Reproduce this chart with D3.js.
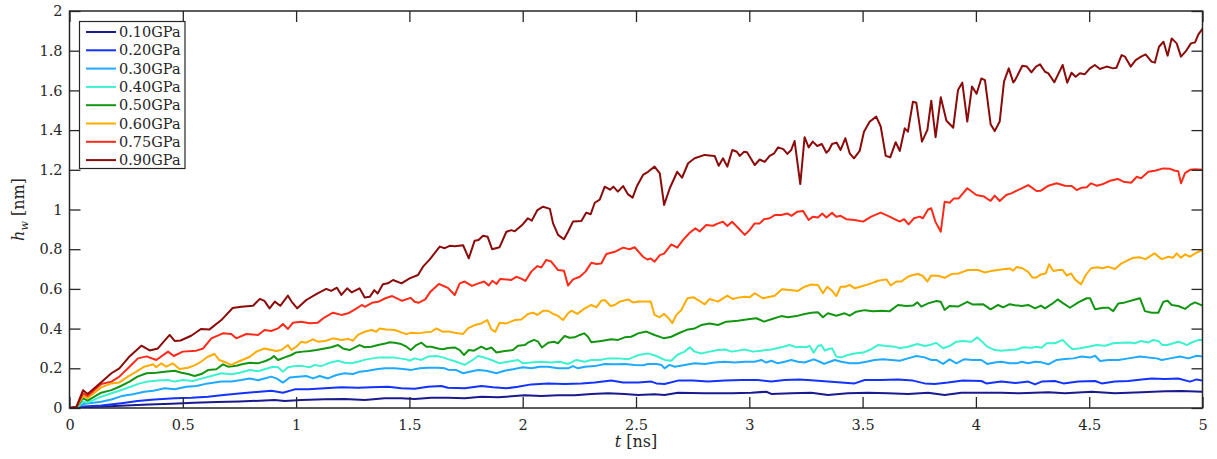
<!DOCTYPE html>
<meta charset="utf-8">
<title>h_w vs t</title>
<style>
  body { margin: 0; background: #fff; }
  svg { display: block; }
  .axis text { font-family: 'DejaVu Serif', serif; font-size: 14.5px; fill: #262626; }
  .axis path, .axis line { stroke: #262626; }
  .label { font-family: 'DejaVu Serif', serif; font-size: 16px; fill: #262626; }
  .legend text { font-family: 'DejaVu Serif', serif; font-size: 14.5px; fill: #262626; }
</style>
<body>
<svg width="1217" height="459"></svg>
<script src="https://cdn.jsdelivr.net/npm/d3@7"></script>
<script>

// series labels and colours
var names = ["0.10GPa","0.20GPa","0.30GPa","0.40GPa","0.50GPa","0.60GPa","0.75GPa","0.90GPa"];
var colors = ["#1a1a8f","#1432ff","#1eaaff","#3cf2cf","#129612","#ffab00","#ff2a1a","#8b0a0a"];

var xTicks = [0,0.5,1,1.5,2,2.5,3,3.5,4,4.5,5];
var yTicks = [0,0.2,0.4,0.6,0.8,1,1.2,1.4,1.6,1.8,2];

// t [ns] / h_w [nm]
var t010 = [0,0.06,0.15,0.25,0.35,0.45,0.55,0.65,0.75,0.84,0.905,0.95,1.023,1.126,1.214,1.303,1.391,1.464,1.523,1.597,1.67,1.744,1.818,1.891,1.965,2.009,2.082,2.156,2.229,2.303,2.377,2.45,2.509,2.582,2.626,2.685,2.803,2.921,3.009,3.075,3.097,3.185,3.274,3.347,3.435,3.524,3.612,3.7,3.789,3.862,3.936,4.024,4.112,4.193,4.32,4.393,4.511,4.614,4.732,4.835,4.908,5];
var h010 = [0,0.003,0.008,0.013,0.018,0.022,0.027,0.03,0.033,0.037,0.04,0.035,0.04,0.044,0.045,0.04,0.049,0.049,0.045,0.052,0.052,0.049,0.057,0.054,0.06,0.064,0.06,0.064,0.064,0.07,0.074,0.07,0.066,0.069,0.065,0.077,0.074,0.074,0.077,0.082,0.071,0.074,0.077,0.066,0.074,0.077,0.074,0.07,0.077,0.065,0.077,0.077,0.077,0.074,0.079,0.074,0.082,0.074,0.079,0.084,0.086,0.082];

var t020 = [0,0.06,0.14,0.23,0.3,0.376,0.464,0.538,0.611,0.68,0.76,0.84,0.891,0.942,0.994,1.053,1.126,1.2,1.273,1.332,1.406,1.464,1.523,1.582,1.641,1.67,1.744,1.818,1.869,1.928,1.979,2.038,2.112,2.185,2.259,2.318,2.391,2.443,2.509,2.568,2.59,2.626,2.685,2.751,2.818,2.891,2.965,3.038,3.097,3.156,3.222,3.288,3.347,3.406,3.465,3.509,3.583,3.656,3.722,3.774,3.818,3.877,3.943,4.024,4.046,4.112,4.173,4.231,4.261,4.29,4.349,4.386,4.452,4.526,4.555,4.614,4.673,4.732,4.776,4.835,4.893,4.945,4.974,5];
var h020 = [0,0.007,0.012,0.024,0.035,0.043,0.049,0.052,0.057,0.065,0.074,0.082,0.087,0.077,0.094,0.094,0.099,0.104,0.102,0.104,0.107,0.099,0.097,0.107,0.111,0.102,0.099,0.111,0.104,0.099,0.107,0.119,0.124,0.121,0.124,0.128,0.138,0.128,0.128,0.133,0.124,0.121,0.138,0.138,0.133,0.138,0.141,0.141,0.133,0.141,0.144,0.138,0.133,0.128,0.124,0.141,0.141,0.144,0.138,0.124,0.121,0.128,0.138,0.136,0.124,0.133,0.126,0.133,0.119,0.133,0.136,0.124,0.133,0.136,0.124,0.133,0.136,0.144,0.149,0.146,0.149,0.133,0.144,0.138];

var t030 = [0,0.03,0.06,0.14,0.185,0.23,0.28,0.33,0.37,0.42,0.464,0.515,0.56,0.611,0.67,0.714,0.758,0.795,0.832,0.861,0.89,0.913,0.942,0.972,1.008,1.045,1.075,1.104,1.141,1.178,1.214,1.251,1.281,1.317,1.354,1.391,1.435,1.472,1.509,1.545,1.582,1.626,1.656,1.67,1.707,1.737,1.766,1.803,1.84,1.884,1.92,1.957,2.001,2.038,2.075,2.112,2.156,2.2,2.222,2.244,2.274,2.318,2.362,2.406,2.45,2.494,2.531,2.553,2.59,2.612,2.626,2.648,2.671,2.715,2.759,2.803,2.847,2.891,2.935,2.98,3.024,3.053,3.075,3.097,3.126,3.156,3.185,3.215,3.244,3.266,3.285,3.311,3.33,3.355,3.377,3.406,3.443,3.48,3.516,3.553,3.59,3.627,3.664,3.7,3.737,3.774,3.803,3.825,3.855,3.884,3.914,3.947,3.987,4.024,4.05,4.083,4.112,4.149,4.18,4.202,4.231,4.261,4.29,4.32,4.356,4.393,4.43,4.467,4.504,4.526,4.548,4.585,4.629,4.673,4.724,4.761,4.798,4.82,4.857,4.901,4.938,4.974,5];
var h030 = [0,0.001,0.02,0.032,0.043,0.06,0.069,0.082,0.087,0.099,0.094,0.107,0.111,0.124,0.133,0.133,0.141,0.149,0.14,0.149,0.158,0.149,0.128,0.154,0.158,0.161,0.149,0.161,0.149,0.166,0.175,0.171,0.183,0.188,0.195,0.2,0.2,0.197,0.192,0.2,0.203,0.203,0.2,0.193,0.191,0.175,0.183,0.191,0.188,0.175,0.188,0.195,0.205,0.2,0.208,0.208,0.2,0.2,0.211,0.2,0.208,0.211,0.222,0.22,0.222,0.217,0.215,0.222,0.222,0.217,0.2,0.217,0.208,0.217,0.225,0.222,0.229,0.233,0.229,0.233,0.233,0.242,0.229,0.238,0.225,0.233,0.242,0.233,0.229,0.238,0.245,0.233,0.222,0.233,0.242,0.233,0.225,0.225,0.233,0.242,0.245,0.242,0.238,0.25,0.262,0.255,0.242,0.242,0.222,0.245,0.225,0.245,0.242,0.242,0.222,0.229,0.233,0.225,0.225,0.233,0.225,0.233,0.23,0.22,0.242,0.247,0.25,0.259,0.254,0.263,0.237,0.242,0.242,0.25,0.259,0.254,0.25,0.242,0.25,0.259,0.25,0.263,0.259];

var t040 = [0,0.03,0.06,0.08,0.14,0.185,0.23,0.27,0.31,0.346,0.39,0.434,0.464,0.5,0.545,0.582,0.626,0.67,0.714,0.751,0.796,0.832,0.861,0.898,0.92,0.942,0.964,0.994,1.03,1.06,1.082,1.111,1.141,1.185,1.214,1.244,1.273,1.31,1.339,1.369,1.398,1.428,1.457,1.487,1.501,1.523,1.553,1.582,1.619,1.648,1.67,1.707,1.744,1.773,1.803,1.832,1.862,1.898,1.935,1.979,2.001,2.038,2.082,2.126,2.163,2.2,2.237,2.274,2.303,2.34,2.377,2.421,2.465,2.494,2.512,2.553,2.59,2.626,2.656,2.682,2.715,2.737,2.759,2.788,2.825,2.862,2.894,2.921,2.95,2.98,3.016,3.053,3.097,3.141,3.178,3.208,3.23,3.252,3.266,3.284,3.303,3.318,3.333,3.347,3.365,3.384,3.406,3.435,3.465,3.502,3.531,3.568,3.605,3.642,3.664,3.7,3.742,3.774,3.796,3.825,3.855,3.884,3.914,3.943,3.98,4.006,4.024,4.05,4.083,4.112,4.149,4.18,4.209,4.246,4.268,4.29,4.312,4.349,4.383,4.405,4.426,4.46,4.496,4.533,4.57,4.607,4.643,4.68,4.702,4.729,4.761,4.783,4.805,4.823,4.846,4.871,4.893,4.915,4.93,4.952,4.982,5];
var h040 = [0,0.001,0.032,0.027,0.057,0.074,0.091,0.107,0.124,0.133,0.138,0.141,0.133,0.141,0.136,0.148,0.161,0.175,0.17,0.178,0.191,0.185,0.195,0.208,0.205,0.183,0.205,0.211,0.211,0.205,0.217,0.211,0.225,0.238,0.228,0.225,0.233,0.245,0.25,0.255,0.255,0.255,0.25,0.245,0.238,0.25,0.242,0.259,0.262,0.255,0.246,0.233,0.217,0.237,0.262,0.254,0.242,0.225,0.233,0.242,0.225,0.229,0.233,0.229,0.233,0.222,0.242,0.233,0.242,0.242,0.25,0.25,0.245,0.259,0.267,0.275,0.262,0.242,0.238,0.267,0.284,0.306,0.284,0.275,0.284,0.292,0.295,0.284,0.289,0.295,0.284,0.289,0.295,0.306,0.317,0.306,0.309,0.306,0.314,0.279,0.312,0.317,0.289,0.296,0.301,0.259,0.255,0.267,0.275,0.279,0.292,0.317,0.312,0.309,0.301,0.309,0.322,0.312,0.317,0.329,0.301,0.312,0.334,0.338,0.334,0.356,0.338,0.309,0.292,0.289,0.292,0.295,0.306,0.304,0.309,0.304,0.326,0.326,0.343,0.317,0.296,0.301,0.309,0.317,0.314,0.326,0.329,0.33,0.326,0.338,0.33,0.343,0.338,0.317,0.317,0.326,0.334,0.326,0.317,0.33,0.343,0.343];

var t050 = [0,0.03,0.06,0.08,0.14,0.185,0.22,0.265,0.3,0.34,0.383,0.42,0.464,0.494,0.523,0.552,0.582,0.611,0.648,0.677,0.7,0.736,0.766,0.796,0.832,0.868,0.89,0.902,0.92,0.95,0.979,1,1.03,1.06,1.09,1.126,1.155,1.185,1.207,1.236,1.258,1.28,1.303,1.332,1.362,1.398,1.413,1.435,1.464,1.487,1.506,1.531,1.553,1.575,1.597,1.626,1.648,1.67,1.7,1.722,1.741,1.762,1.785,1.817,1.84,1.862,1.884,1.921,1.957,1.979,2.009,2.023,2.05,2.068,2.085,2.112,2.138,2.156,2.185,2.207,2.229,2.252,2.271,2.288,2.303,2.347,2.391,2.421,2.45,2.479,2.509,2.546,2.582,2.624,2.656,2.693,2.73,2.759,2.788,2.825,2.862,2.899,2.95,2.994,3.031,3.065,3.097,3.141,3.171,3.208,3.244,3.274,3.303,3.325,3.347,3.384,3.421,3.443,3.472,3.509,3.546,3.583,3.62,3.656,3.693,3.722,3.742,3.759,3.789,3.826,3.845,3.862,3.884,3.921,3.962,3.987,4.031,4.065,4.098,4.12,4.149,4.173,4.202,4.231,4.261,4.287,4.305,4.334,4.361,4.386,4.415,4.452,4.489,4.504,4.526,4.563,4.585,4.606,4.629,4.658,4.695,4.724,4.746,4.776,4.805,4.827,4.846,4.864,4.893,4.923,4.945,4.967,5];
var h050 = [0,0.002,0.049,0.037,0.077,0.09,0.107,0.133,0.158,0.175,0.178,0.183,0.188,0.178,0.171,0.161,0.171,0.191,0.195,0.22,0.208,0.213,0.222,0.228,0.225,0.238,0.25,0.262,0.242,0.255,0.267,0.28,0.284,0.287,0.292,0.3,0.306,0.317,0.3,0.292,0.304,0.317,0.306,0.309,0.317,0.326,0.331,0.329,0.322,0.309,0.292,0.317,0.329,0.309,0.309,0.3,0.296,0.302,0.305,0.292,0.267,0.292,0.289,0.309,0.295,0.305,0.28,0.287,0.292,0.314,0.317,0.329,0.343,0.334,0.305,0.329,0.334,0.326,0.363,0.354,0.356,0.368,0.376,0.359,0.331,0.338,0.346,0.343,0.356,0.359,0.376,0.385,0.368,0.351,0.359,0.379,0.396,0.401,0.418,0.426,0.418,0.435,0.44,0.447,0.452,0.435,0.447,0.463,0.457,0.463,0.474,0.48,0.482,0.457,0.477,0.465,0.477,0.465,0.485,0.493,0.488,0.49,0.488,0.519,0.514,0.516,0.532,0.511,0.527,0.539,0.535,0.494,0.514,0.511,0.535,0.521,0.523,0.497,0.519,0.507,0.523,0.518,0.514,0.519,0.502,0.516,0.502,0.523,0.547,0.527,0.505,0.532,0.553,0.553,0.497,0.505,0.505,0.488,0.527,0.532,0.544,0.553,0.488,0.48,0.48,0.535,0.54,0.519,0.514,0.499,0.519,0.532,0.516];

var t060 = [0,0.03,0.06,0.08,0.14,0.185,0.22,0.258,0.295,0.33,0.37,0.383,0.405,0.427,0.456,0.485,0.523,0.552,0.58,0.61,0.64,0.66,0.682,0.714,0.744,0.796,0.825,0.86,0.913,0.935,0.964,0.979,1.001,1.023,1.045,1.074,1.097,1.133,1.163,1.2,1.229,1.251,1.273,1.303,1.332,1.354,1.369,1.398,1.435,1.464,1.486,1.509,1.538,1.567,1.597,1.619,1.648,1.67,1.7,1.737,1.758,1.788,1.817,1.844,1.862,1.879,1.898,1.928,1.965,1.994,2.023,2.046,2.065,2.09,2.112,2.134,2.156,2.178,2.2,2.215,2.241,2.274,2.303,2.325,2.347,2.362,2.388,2.406,2.428,2.465,2.487,2.509,2.565,2.582,2.604,2.624,2.644,2.66,2.678,2.7,2.727,2.752,2.774,2.803,2.825,2.862,2.903,2.928,2.95,2.98,3.002,3.024,3.06,3.112,3.144,3.178,3.215,3.244,3.274,3.303,3.325,3.344,3.365,3.384,3.403,3.424,3.443,3.465,3.502,3.538,3.568,3.605,3.624,3.649,3.671,3.7,3.722,3.744,3.766,3.786,3.803,3.833,3.862,3.892,3.924,3.965,4.009,4.038,4.075,4.112,4.149,4.164,4.18,4.205,4.229,4.249,4.268,4.287,4.308,4.323,4.342,4.364,4.383,4.401,4.42,4.437,4.464,4.485,4.508,4.537,4.558,4.582,4.614,4.643,4.665,4.695,4.724,4.749,4.788,4.82,4.849,4.871,4.886,4.905,4.923,4.945,4.967,5];
var h060 = [0,0.003,0.06,0.05,0.104,0.124,0.129,0.158,0.183,0.208,0.22,0.205,0.225,0.208,0.225,0.196,0.203,0.215,0.233,0.258,0.272,0.242,0.233,0.217,0.233,0.258,0.284,0.3,0.287,0.292,0.317,0.292,0.309,0.334,0.329,0.346,0.334,0.339,0.351,0.343,0.348,0.339,0.368,0.384,0.393,0.384,0.401,0.396,0.393,0.381,0.372,0.379,0.376,0.381,0.384,0.401,0.384,0.386,0.379,0.373,0.401,0.418,0.426,0.443,0.396,0.384,0.43,0.426,0.443,0.446,0.474,0.48,0.469,0.49,0.49,0.474,0.464,0.443,0.477,0.49,0.474,0.502,0.519,0.507,0.541,0.544,0.514,0.519,0.536,0.547,0.532,0.536,0.536,0.469,0.457,0.474,0.452,0.427,0.469,0.494,0.553,0.558,0.544,0.522,0.549,0.536,0.566,0.549,0.556,0.561,0.558,0.578,0.553,0.566,0.598,0.595,0.59,0.611,0.622,0.62,0.578,0.611,0.591,0.564,0.611,0.611,0.62,0.603,0.615,0.628,0.641,0.648,0.617,0.637,0.637,0.661,0.67,0.675,0.665,0.637,0.668,0.666,0.656,0.675,0.678,0.695,0.695,0.683,0.692,0.698,0.703,0.692,0.71,0.704,0.687,0.658,0.658,0.673,0.678,0.724,0.69,0.695,0.695,0.667,0.678,0.648,0.623,0.67,0.704,0.709,0.704,0.712,0.7,0.729,0.741,0.757,0.759,0.75,0.779,0.75,0.762,0.757,0.779,0.757,0.774,0.762,0.779,0.796];

var t075 = [0,0.03,0.06,0.08,0.14,0.185,0.22,0.265,0.302,0.34,0.383,0.435,0.46,0.5,0.56,0.59,0.626,0.677,0.714,0.736,0.78,0.832,0.861,0.89,0.92,0.942,0.964,0.986,1.023,1.06,1.096,1.126,1.163,1.2,1.23,1.26,1.29,1.303,1.335,1.362,1.394,1.424,1.468,1.505,1.523,1.54,1.57,1.593,1.63,1.656,1.67,1.7,1.722,1.744,1.776,1.805,1.83,1.85,1.866,1.885,1.9,1.95,1.972,1.991,2.012,2.038,2.065,2.082,2.104,2.126,2.156,2.182,2.2,2.222,2.252,2.277,2.303,2.325,2.347,2.369,2.406,2.443,2.472,2.494,2.531,2.55,2.565,2.582,2.605,2.624,2.656,2.682,2.707,2.737,2.762,2.781,2.81,2.84,2.862,2.884,2.903,2.924,2.95,2.98,3.002,3.024,3.046,3.065,3.09,3.112,3.141,3.168,3.186,3.212,3.237,3.262,3.281,3.303,3.322,3.34,3.365,3.384,3.403,3.428,3.465,3.502,3.538,3.58,3.619,3.664,3.683,3.703,3.727,3.752,3.766,3.789,3.803,3.821,3.845,3.862,3.884,3.903,3.924,3.962,4.002,4.036,4.065,4.083,4.105,4.134,4.156,4.18,4.202,4.231,4.268,4.287,4.32,4.356,4.393,4.423,4.445,4.467,4.489,4.508,4.533,4.558,4.592,4.626,4.651,4.685,4.71,4.729,4.761,4.79,4.827,4.857,4.879,4.893,4.905,4.923,4.945,4.967,5];
var h075 = [0,0.004,0.074,0.06,0.121,0.133,0.158,0.208,0.25,0.26,0.242,0.284,0.262,0.284,0.289,0.3,0.351,0.376,0.373,0.351,0.373,0.368,0.393,0.388,0.401,0.423,0.398,0.43,0.435,0.427,0.43,0.457,0.48,0.469,0.477,0.497,0.519,0.51,0.53,0.535,0.553,0.564,0.54,0.555,0.535,0.53,0.547,0.586,0.625,0.612,0.605,0.569,0.628,0.637,0.615,0.628,0.637,0.617,0.641,0.625,0.65,0.645,0.661,0.653,0.64,0.687,0.715,0.708,0.746,0.738,0.695,0.692,0.617,0.648,0.661,0.687,0.732,0.725,0.728,0.776,0.787,0.808,0.8,0.81,0.762,0.748,0.753,0.737,0.77,0.778,0.824,0.808,0.846,0.883,0.905,0.889,0.922,0.918,0.93,0.938,0.917,0.938,0.908,0.872,0.897,0.93,0.93,0.951,0.956,0.972,0.972,0.98,0.968,0.989,0.993,0.947,0.964,0.96,0.98,0.96,0.983,0.964,0.968,0.951,0.947,0.939,0.964,0.984,0.964,0.939,0.951,0.925,0.956,0.964,0.956,1,1.006,0.939,0.888,1.039,1.034,1.056,1.056,1.107,1.073,1.065,1.043,1.07,1.043,1.073,1.081,1.095,1.106,1.123,1.093,1.095,1.12,1.132,1.12,1.118,1.098,1.11,1.112,1.132,1.12,1.127,1.145,1.154,1.14,1.135,1.165,1.157,1.19,1.195,1.207,1.205,1.195,1.193,1.132,1.183,1.2,1.203,1.2];

var t090 = [0,0.03,0.06,0.08,0.14,0.185,0.22,0.265,0.317,0.354,0.39,0.442,0.464,0.49,0.537,0.58,0.618,0.67,0.72,0.758,0.81,0.84,0.86,0.883,0.906,0.93,0.964,0.98,1.005,1.045,1.089,1.133,1.155,1.18,1.2,1.225,1.245,1.28,1.303,1.325,1.345,1.36,1.383,1.405,1.428,1.465,1.501,1.538,1.56,1.59,1.634,1.656,1.678,1.7,1.737,1.762,1.788,1.805,1.825,1.845,1.865,1.898,1.928,1.95,1.965,2,2.023,2.04,2.065,2.09,2.12,2.134,2.156,2.182,2.2,2.222,2.259,2.28,2.3,2.318,2.34,2.362,2.385,2.4,2.42,2.443,2.465,2.485,2.505,2.531,2.553,2.582,2.605,2.624,2.649,2.682,2.703,2.73,2.759,2.803,2.847,2.865,2.884,2.903,2.925,2.945,2.958,2.977,2.99,3.024,3.046,3.068,3.09,3.11,3.127,3.15,3.168,3.185,3.2,3.225,3.244,3.262,3.28,3.3,3.32,3.34,3.352,3.365,3.385,3.403,3.424,3.443,3.462,3.487,3.506,3.531,3.56,3.58,3.602,3.622,3.646,3.664,3.686,3.7,3.722,3.737,3.762,3.786,3.803,3.822,3.845,3.87,3.9,3.921,3.94,3.962,3.983,4.003,4.024,4.04,4.065,4.083,4.105,4.124,4.145,4.165,4.173,4.205,4.225,4.245,4.265,4.283,4.305,4.32,4.346,4.365,4.383,4.403,4.422,4.44,4.459,4.48,4.503,4.525,4.547,4.577,4.606,4.62,4.643,4.658,4.683,4.705,4.729,4.749,4.775,4.79,4.808,4.828,4.846,4.864,4.886,4.905,4.925,4.949,4.967,4.982,5];
var h090 = [0,0.005,0.09,0.07,0.13,0.175,0.2,0.26,0.314,0.29,0.3,0.368,0.338,0.34,0.364,0.398,0.396,0.443,0.504,0.51,0.515,0.55,0.54,0.502,0.536,0.515,0.566,0.536,0.502,0.544,0.574,0.6,0.59,0.606,0.57,0.603,0.583,0.603,0.557,0.56,0.594,0.577,0.623,0.628,0.645,0.628,0.653,0.67,0.712,0.749,0.813,0.805,0.817,0.815,0.82,0.754,0.843,0.846,0.868,0.863,0.8,0.81,0.888,0.896,0.89,0.925,0.956,0.944,0.997,1.014,1.003,0.93,0.872,0.85,0.888,0.939,0.942,0.984,0.976,1.034,1.05,1.115,1.1,1.115,1.09,1.118,1.076,1.06,1.12,1.174,1.19,1.216,1.182,1.023,1.107,1.19,1.16,1.233,1.258,1.275,1.27,1.22,1.258,1.216,1.3,1.291,1.27,1.291,1.288,1.224,1.252,1.24,1.27,1.283,1.313,1.304,1.28,1.3,1.345,1.128,1.364,1.313,1.342,1.32,1.33,1.286,1.3,1.33,1.337,1.3,1.359,1.283,1.258,1.295,1.392,1.442,1.468,1.418,1.27,1.263,1.339,1.295,1.409,1.392,1.543,1.538,1.342,1.401,1.548,1.364,1.565,1.447,1.412,1.602,1.639,1.443,1.62,1.583,1.66,1.652,1.43,1.395,1.443,1.644,1.711,1.64,1.652,1.724,1.72,1.691,1.72,1.731,1.694,1.686,1.641,1.686,1.728,1.639,1.689,1.669,1.686,1.681,1.711,1.728,1.708,1.72,1.711,1.714,1.778,1.77,1.72,1.753,1.77,1.781,1.745,1.74,1.82,1.845,1.775,1.862,1.837,1.77,1.795,1.837,1.842,1.882,1.91];

var tSeries = [t010,t020,t030,t040,t050,t060,t075,t090];
var hSeries = [h010,h020,h030,h040,h050,h060,h075,h090];

var svg = d3.select("svg");
var pl = 69.5, pr = 1202.5, pt = 11, pb = 408;

var x = d3.scaleLinear().domain([0,5]).range([pl,pr]);
var y = d3.scaleLinear().domain([0,2]).range([pb,pt]);
var fmt = d3.format("~g");
var tick = 11;

svg.append("defs").append("clipPath").attr("id","plotclip")
  .append("rect").attr("x",pl).attr("y",pt).attr("width",pr-pl).attr("height",pb-pt);

// lines
var line = d3.line().x(function(d){ return x(d[0]); }).y(function(d){ return y(d[1]); });
var g = svg.append("g").attr("clip-path","url(#plotclip)");
hSeries.forEach(function(h, i) {
  var pts = h.map(function(v, j){ return [tSeries[i][j], v]; });
  g.append("path").datum(pts)
    .attr("d", line)
    .attr("fill","none")
    .attr("stroke", colors[i])
    .attr("stroke-width", 2)
    .attr("stroke-linejoin","round");
});

// axes, ticks pointing inward
svg.append("g").attr("class","axis").attr("transform","translate(0,"+pb+")")
  .call(d3.axisBottom(x).tickValues(xTicks).tickFormat(fmt).tickSizeInner(-tick).tickSizeOuter(0).tickPadding(12));
svg.append("g").attr("class","axis").attr("transform","translate(0,"+pt+")")
  .call(d3.axisTop(x).tickValues(xTicks).tickFormat("").tickSizeInner(-tick).tickSizeOuter(0));
svg.append("g").attr("class","axis").attr("transform","translate("+pl+",0)")
  .call(d3.axisLeft(y).tickValues(yTicks).tickFormat(fmt).tickSizeInner(-tick).tickSizeOuter(0).tickPadding(7));
svg.append("g").attr("class","axis").attr("transform","translate("+pr+",0)")
  .call(d3.axisRight(y).tickValues(yTicks).tickFormat("").tickSizeInner(-tick).tickSizeOuter(0));
svg.selectAll(".axis .domain").remove();
svg.selectAll(".axis line").attr("stroke-width",1.3);

svg.append("rect")
  .attr("x",pl).attr("y",pt).attr("width",pr-pl).attr("height",pb-pt)
  .attr("fill","none").attr("stroke","#262626").attr("stroke-width",1.5);

// axis labels
svg.append("text").attr("class","label")
  .attr("x",(pl+pr)/2).attr("y",447).attr("text-anchor","middle")
  .html('<tspan font-style="italic">t</tspan> [ns]');
svg.append("text").attr("class","label")
  .attr("transform","translate(24,"+y(1)+") rotate(-90)").attr("text-anchor","middle")
  .html('<tspan font-style="italic">h</tspan><tspan font-style="italic" font-size="11px" dy="4">w</tspan><tspan dy="-4"> [nm]</tspan>');

// legend
var lg = svg.append("g").attr("class","legend");
lg.append("rect").attr("x",79.5).attr("y",21.5).attr("width",105.5).attr("height",147)
  .attr("fill","#fff").attr("stroke","#262626").attr("stroke-width",1.2);
names.forEach(function(n, i) {
  var yy = 32 + i*18.3;
  lg.append("line").attr("x1",86).attr("x2",116).attr("y1",yy).attr("y2",yy)
    .attr("stroke",colors[i]).attr("stroke-width",2);
  lg.append("text").attr("x",119).attr("y",yy).attr("dy","0.35em").text(n);
});
</script>
</body>
